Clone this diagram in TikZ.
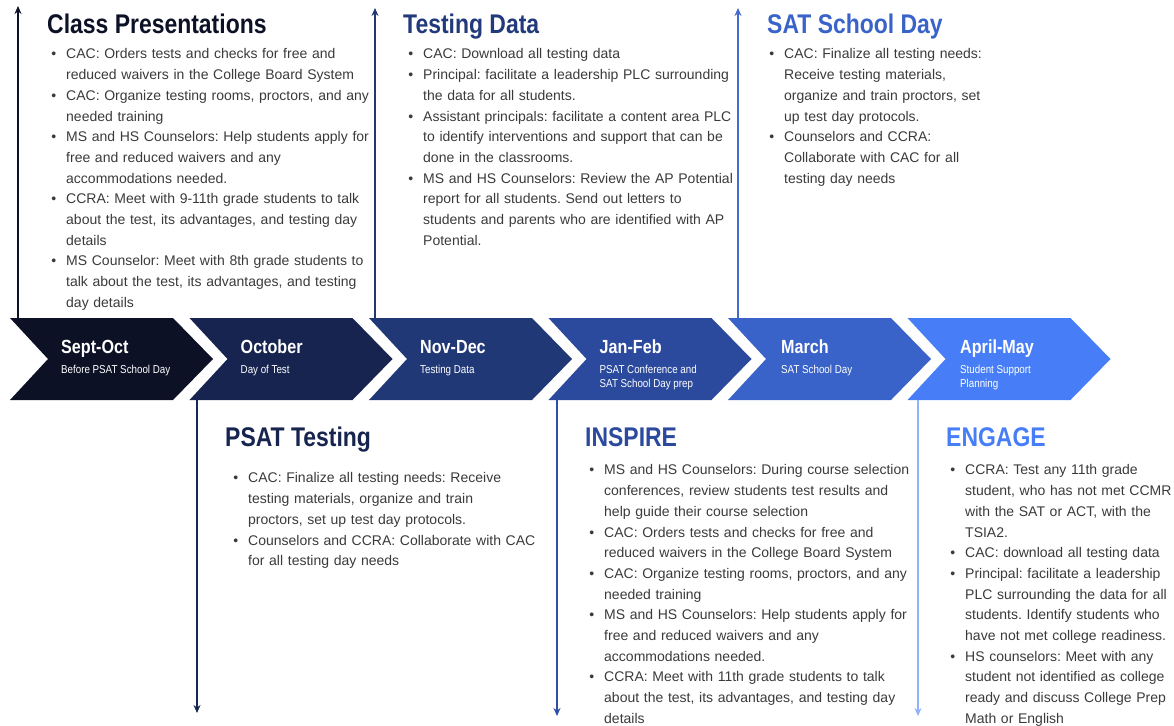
\documentclass[tikz,border=0pt]{standalone}
\usepackage{fontspec}
\setmainfont{Liberation Sans}
\newfontfamily\narrowfont{Liberation Sans}[FakeStretch=0.85]
\usetikzlibrary{arrows.meta,positioning}

\definecolor{chevA}{HTML}{0C1126}
\definecolor{chevB}{HTML}{16244F}
\definecolor{chevC}{HTML}{213877}
\definecolor{chevD}{HTML}{2B4A9E}
\definecolor{chevE}{HTML}{3963C9}
\definecolor{chevF}{HTML}{477EF8}
\definecolor{bodygray}{HTML}{3A3A3A}

% list with small bullets and no extra space
\newcommand{\dotlist}[1]{\begin{list}{\textbullet}{\setlength{\leftmargin}{13pt}\setlength{\labelsep}{10pt}\setlength{\labelwidth}{5pt}\setlength{\itemsep}{0pt}\setlength{\parsep}{0pt}\setlength{\topsep}{0pt}\setlength{\partopsep}{0pt}}#1\end{list}}
\frenchspacing

\begin{document}
\begin{tikzpicture}[x=1pt,y=-1pt,
  head/.style={anchor=base west, inner sep=0pt, font=\narrowfont\bfseries\fontsize{27}{30}\selectfont},
  body/.style={anchor=north west, inner sep=0pt, text width=360pt, text=bodygray, font=\fontsize{14}{20.7}\selectfont},
  month/.style={anchor=base west, inner sep=0pt, text=white, font=\narrowfont\bfseries\fontsize{19}{22}\selectfont},
  sub/.style={anchor=north west, inner sep=0pt, text=white, align=left, font=\narrowfont\fontsize{11.5}{13.5}\selectfont},
  tl/.style={line width=1.5pt, -{Stealth[length=8pt,width=7pt]}}]
\useasboundingbox (0,0) rectangle (1174,725);

% the six chevrons
\fill[chevA] (10,318) -- ++(163,0) -- ++(40,41) -- ++(-40,41) -- ++(-163,0) -- ++(38,-41) -- cycle;
\fill[chevB] (189.5,318) -- ++(163,0) -- ++(40,41) -- ++(-40,41) -- ++(-163,0) -- ++(38,-41) -- cycle;
\fill[chevC] (369,318) -- ++(163,0) -- ++(40,41) -- ++(-40,41) -- ++(-163,0) -- ++(38,-41) -- cycle;
\fill[chevD] (548.5,318) -- ++(163,0) -- ++(40,41) -- ++(-40,41) -- ++(-163,0) -- ++(38,-41) -- cycle;
\fill[chevE] (728,318) -- ++(163,0) -- ++(40,41) -- ++(-40,41) -- ++(-163,0) -- ++(38,-41) -- cycle;
\fill[chevF] (907.5,318) -- ++(163,0) -- ++(40,41) -- ++(-40,41) -- ++(-163,0) -- ++(38,-41) -- cycle;

\node[month] (sept) at (61,353) {Sept-Oct};
\node[sub] (sept-sub) at (61,365) {Before PSAT School Day};
\node[month] (oct) at (240.5,353) {October};
\node[sub] (oct-sub) at (240.5,365) {Day of Test};
\node[month] (nov) at (420,353) {Nov-Dec};
\node[sub] (nov-sub) at (420,365) {Testing Data};
\node[month] (jan) at (599.5,353) {Jan-Feb};
\node[sub] (jan-sub) at (599.5,365) {PSAT Conference and\\SAT School Day prep};
\node[month] (mar) at (781,353) {March};
\node[sub] (mar-sub) at (781,365) {SAT School Day};
\node[month] (apr) at (960,353) {April-May};
\node[sub] (apr-sub) at (960,365) {Student Support\\Planning};

% timeline arrows
\coordinate (cp-base) at (18,318);
\coordinate (cp-tip) at (18,6);
\coordinate (td-base) at (375,318);
\coordinate (td-tip) at (375,8);
\coordinate (sat-base) at (738,318);
\coordinate (sat-tip) at (738,8);
\coordinate (psat-base) at (197,400);
\coordinate (psat-tip) at (197,713);
\coordinate (insp-base) at (557,400);
\coordinate (insp-tip) at (557,716);
\coordinate (eng-base) at (918,400);
\coordinate (eng-tip) at (918,716);
\draw[tl, chevA] (cp-base) -- (cp-tip);
\draw[tl, chevC] (td-base) -- (td-tip);
\draw[tl, chevE!95!white] (sat-base) -- (sat-tip);
\draw[tl, chevB!90!chevC] (psat-base) -- (psat-tip);
\draw[tl, chevD!80!chevE] (insp-base) -- (insp-tip);
\draw[tl, chevF!60!white] (eng-base) -- (eng-tip);

% top texts
\node[head, text=chevA] (cp-head) at (47,34) {Class Presentations};
\node[body] (cp-list) at (53,38) {\dotlist{
\item CAC: Orders tests and checks for free and\\reduced waivers in the College Board System
\item CAC: Organize testing rooms, proctors, and any\\needed training
\item MS and HS Counselors: Help students apply for\\free and reduced waivers and any\\accommodations needed.
\item CCRA: Meet with 9-11th grade students to talk\\about the test, its advantages, and testing day\\details
\item MS Counselor: Meet with 8th grade students to\\talk about the test, its advantages, and testing\\day details}};

\node[head, text=chevC!90!chevD] (td-head) at (403,34) {Testing Data};
\node[body] (td-list) at (410,38) {\dotlist{
\item CAC: Download all testing data
\item Principal: facilitate a leadership PLC surrounding\\the data for all students.
\item Assistant principals: facilitate a content area PLC\\to identify interventions and support that can be\\done in the classrooms.
\item MS and HS Counselors: Review the AP Potential\\report for all students. Send out letters to\\students and parents who are identified with AP\\Potential.}};

\node[head, text=chevE] (sat-head) at (767,34) {SAT School Day};
\node[body] (sat-list) at (771,38) {\dotlist{
\item CAC: Finalize all testing needs:\\Receive testing materials,\\organize and train proctors, set\\up test day protocols.
\item Counselors and CCRA:\\Collaborate with CAC for all\\testing day needs}};

% bottom texts
\node[head, text=chevB] (psat-head) at (225,446) {PSAT Testing};
\node[body] (psat-list) at (235,462) {\dotlist{
\item CAC: Finalize all testing needs: Receive\\testing materials, organize and train\\proctors, set up test day protocols.
\item Counselors and CCRA: Collaborate with CAC\\for all testing day needs}};

\node[head, text=chevD] (insp-head) at (585,446) {INSPIRE};
\node[body] (insp-list) at (591,454) {\dotlist{
\item MS and HS Counselors: During course selection\\conferences, review students test results and\\help guide their course selection
\item CAC: Orders tests and checks for free and\\reduced waivers in the College Board System
\item CAC: Organize testing rooms, proctors, and any\\needed training
\item MS and HS Counselors: Help students apply for\\free and reduced waivers and any\\accommodations needed.
\item CCRA: Meet with 11th grade students to talk\\about the test, its advantages, and testing day\\details}};

\node[head, text=chevF] (eng-head) at (946,446) {ENGAGE};
\node[body] (eng-list) at (952,454) {\dotlist{
\item CCRA: Test any 11th grade\\student, who has not met CCMR\\with the SAT or ACT, with the\\TSIA2.
\item CAC: download all testing data
\item Principal: facilitate a leadership\\PLC surrounding the data for all\\students. Identify students who\\have not met college readiness.
\item HS counselors: Meet with any\\student not identified as college\\ready and discuss College Prep\\Math or English}};
\end{tikzpicture}
\end{document}
